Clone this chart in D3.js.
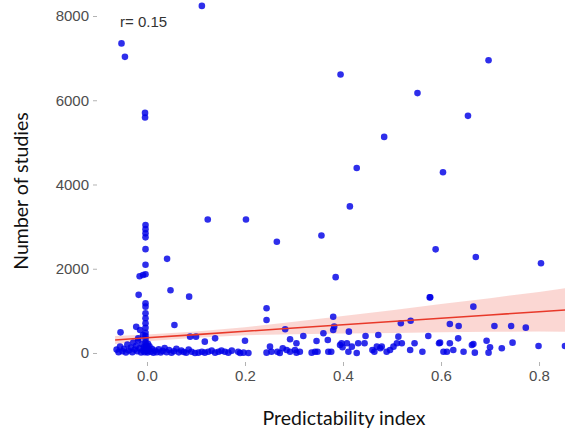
<!DOCTYPE html>
<html lang="en">
<head>
    <meta charset="UTF-8">
    <title>Number of studies vs predictability index</title>
    <style>
        body { margin: 0; background: #fff; }
        svg { display: block; }
        .tick text { font-family: "Liberation Sans", Arial, sans-serif; font-size: 15px; fill: #4d4d4d; }
        .tick line { stroke: #b3b3b3; }
        .title { font-family: Lato, "Open Sans", sans-serif; font-size: 19.5px; fill: #111; }
    </style>
</head>
<body>
    <svg width="565" height="434"></svg>

    <script src="https://cdnjs.cloudflare.com/ajax/libs/d3/7.8.5/d3.min.js"></script>
    <script>
        // predictability index (x) and number of studies (y)
        var predIndex = [
            0.112, -0.052, -0.045, -0.004, -0.004, 0.395, 0.697, 0.552, 0.655, 0.484,
            0.428, 0.604, 0.414, 0.124, 0.202, 0.265, 0.356, 0.385, 0.589, 0.671,
            0.804, 0.577, 0.666, 0.041, 0.048, 0.086,
            -0.003, -0.003, -0.003, -0.003, -0.003, -0.003, -0.003, -0.008, -0.015, -0.017,
            -0.003, -0.003, -0.003, -0.003, -0.003, -0.003, -0.003, -0.003, -0.003, -0.003,
            -0.022, -0.014, -0.018, -0.008, -0.054, 0.056, 0.244, 0.244,
            0.088, 0.100, 0.118, 0.139, 0.200, 0.282, 0.292, 0.319, 0.305, 0.346,
            0.091, 0.098, 0.105, 0.112, 0.118, 0.125, 0.132, 0.139, 0.146, 0.152,
            0.159, 0.166, 0.173, 0.186, 0.190, 0.197, 0.207, 0.244, 0.251, 0.254,
            0.266, 0.271, 0.277, 0.285, 0.292, 0.302, 0.305, 0.312, 0.336, 0.343,
            0.348, 0.360, 0.369, 0.370, 0.376, 0.380, 0.382, 0.380, 0.394, 0.397,
            0.399, 0.408, 0.412, 0.411, 0.418, 0.428, 0.431, 0.444, 0.446, 0.460,
            0.464, 0.469, 0.472, 0.476, 0.479, 0.489, 0.496, 0.503, 0.510, 0.513,
            0.520, 0.537, 0.546, 0.562, 0.574, 0.596, 0.605, 0.518, 0.538, 0.578,
            0.598, 0.618, 0.612, 0.625, 0.635, 0.646, 0.663, 0.666, 0.669, 0.693,
            0.697, 0.700, 0.724, 0.746, 0.799, 0.853, 0.618, 0.636, 0.709, 0.743, 0.773,
            -0.062, -0.058, -0.055, -0.050, -0.047, -0.043, -0.040, -0.037, -0.033, -0.030,
            -0.028, -0.025, -0.022, -0.020, -0.018, -0.015, -0.012, -0.010, -0.008, -0.006,
            -0.005, -0.003, -0.002, 0.000, 0.000, 0.001, 0.002, 0.003, 0.005, 0.008,
            0.010, 0.013, 0.016, 0.020, 0.024, 0.028, 0.032, 0.036, 0.040, 0.045,
            0.050, 0.055, 0.060, 0.065, 0.070, 0.075, 0.080, 0.085
        ];
        var studies = [
            8240, 7350, 7030, 5700, 5590, 6610, 6950, 6170, 5630, 5130,
            4390, 4290, 3480, 3170, 3170, 2640, 2790, 1800, 2460, 2280,
            2130, 1320, 1100, 2235, 1490, 1337,
            3040, 2940, 2840, 2745, 2465, 2095, 1870, 1850, 1820, 1380,
            1180, 1100, 942, 823, 705, 600, 482, 400, 330, 250,
            620, 546, 350, 427, 490, 665, 1061, 783,
            388, 388, 269, 348, 292, 562, 325, 403, 230, 285,
            31, 0, 8, 31, 8, 31, 55, 8, 31, 55,
            31, 8, 55, 31, 0, 8, 0, 8, 150, 31,
            31, 0, 111, 71, 31, 71, 8, 31, 8, 31,
            31, 467, 309, 31, 31, 546, 625, 862, 190, 230,
            135, 230, 506, 31, 150, 0, 230, 230, 403, 71,
            31, 150, 427, 111, 150, 31, 71, 150, 230, 388,
            230, 71, 230, 31, 403, 230, 31, 705, 767, 1322,
            245, 230, 31, 71, 348, 31, 190, 214, 8, 292,
            8, 135, 111, 245, 166, 166, 688, 641, 641, 641, 601,
            80, 20, 150, 40, 100, 10, 200, 60, 130, 20,
            250, 80, 170, 40, 300, 110, 10, 210, 60, 140,
            20, 90, 180, 40, 130, 10, 220, 70, 160, 30,
            100, 5, 60, 20, 90, 10, 50, 120, 20, 70,
            5, 40, 100, 15, 60, 25, 5, 80
        ];

        // fitted line and its confidence band
        var bandX = [-0.065, 0, 0.1, 0.2, 0.3, 0.4, 0.5, 0.6, 0.7, 0.8, 0.86];
        var fitY = [310, 360, 437, 515, 592, 670, 747, 825, 902, 980, 1026];
        var bandLo = [215, 280, 362, 420, 442, 460, 477, 490, 502, 510, 506];
        var bandHi = [405, 440, 512, 610, 742, 880, 1017, 1160, 1302, 1450, 1546];

        var xTicks = [0, 0.2, 0.4, 0.6, 0.8];
        var yTicks = [0, 2000, 4000, 6000, 8000];

        var svg = d3.select("svg");
        var pLeft = 97, pRight = 565, pTop = 0, pBottom = 362;

        var x = d3.scaleLinear().domain([-0.102, 0.853]).range([pLeft, pRight]);
        var y = d3.scaleLinear().domain([-214, 8380]).range([pBottom, pTop]);

        svg.append("clipPath").attr("id", "panel")
            .append("rect")
            .attr("x", pLeft).attr("y", pTop)
            .attr("width", pRight - pLeft).attr("height", pBottom - pTop);

        var plot = svg.append("g").attr("clip-path", "url(#panel)");

        var bandData = bandX.map(function (d, i) {
            return { x: d, lo: bandLo[i], hi: bandHi[i], fit: fitY[i] };
        });

        // confidence band
        plot.append("path")
            .datum(bandData)
            .attr("fill", "#f06050")
            .attr("fill-opacity", 0.25)
            .attr("d", d3.area()
                .x(function (d) { return x(d.x); })
                .y0(function (d) { return y(d.lo); })
                .y1(function (d) { return y(d.hi); }));

        // points
        plot.selectAll("circle")
            .data(predIndex)
            .enter().append("circle")
            .attr("cx", function (d) { return x(d); })
            .attr("cy", function (d, i) { return y(studies[i]); })
            .attr("r", 3.3)
            .attr("fill", "#0000e6")
            .attr("fill-opacity", 0.82);

        // fitted line
        plot.append("path")
            .datum(bandData)
            .attr("fill", "none")
            .attr("stroke", "#e8392a")
            .attr("stroke-width", 1.6)
            .attr("d", d3.line()
                .x(function (d) { return x(d.x); })
                .y(function (d) { return y(d.fit); }));

        // axes
        var xAxis = svg.append("g")
            .attr("transform", "translate(0," + pBottom + ")")
            .call(d3.axisBottom(x).tickValues(xTicks).tickFormat(d3.format(".1f")).tickSize(4).tickPadding(4));
        xAxis.select(".domain").remove();

        var yAxis = svg.append("g")
            .attr("transform", "translate(" + pLeft + ",0)")
            .call(d3.axisLeft(y).tickValues(yTicks).tickFormat(d3.format("d")).tickSize(4).tickPadding(4));
        yAxis.select(".domain").remove();

        svg.append("text")
            .attr("x", 120).attr("y", 27)
            .attr("font-family", "Liberation Sans, Arial, sans-serif")
            .attr("font-size", 15)
            .attr("fill", "#333")
            .text("r= 0.15");

        svg.append("text")
            .attr("class", "title")
            .attr("x", 344).attr("y", 425)
            .attr("text-anchor", "middle")
            .text("Predictability index");

        svg.append("text")
            .attr("class", "title")
            .attr("transform", "translate(28,191) rotate(-90)")
            .attr("text-anchor", "middle")
            .text("Number of studies");
    </script>
</body>
</html>
